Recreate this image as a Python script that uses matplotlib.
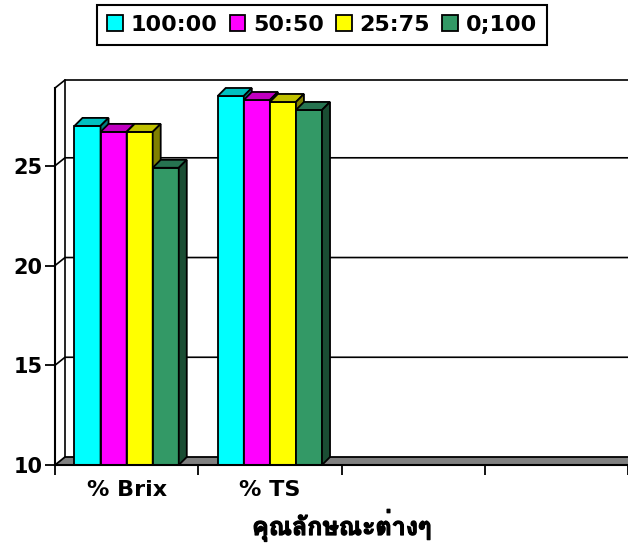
import matplotlib
matplotlib.use("Agg")
import matplotlib.pyplot as plt
import matplotlib.patheffects as pe
from matplotlib import font_manager
from matplotlib.ft2font import FT2Font
from matplotlib.patches import Polygon, Patch

# data
categories = ["% Brix", "% TS", "", ""]
series = ["100:00", "50:50", "25:75", "0;100"]
s_100_00 = [27.0, 28.5]
s_50_50 = [26.7, 28.3]
s_25_75 = [26.7, 28.2]
s_0_100 = [24.9, 27.8]
y_ticks = [10, 15, 20, 25]
x_title = "คุณลักษณะต่างๆ"

FRONT = ["#00FFFF", "#FF00FF", "#FFFF00", "#339966"]
TOP = ["#00C0C0", "#C000C0", "#C0C000", "#267350"]
SIDE = ["#008080", "#800080", "#808000", "#1A4D33"]
FLOOR = "#808080"


def thai_family():
    for f in font_manager.fontManager.ttflist:
        try:
            if 0x0E04 in FT2Font(f.fname).get_charmap():
                return f.name
        except Exception:
            pass
    return "DejaVu Sans"


W, H = 628, 544
L, R, B, T = 55, 628, 465, 88
YMIN, YMAX = 10, 28.9

fig = plt.figure(figsize=(W / 100, H / 100), dpi=100)
ax = fig.add_axes([L / W, 1 - B / H, (R - L) / W, (B - T) / H])
ax.set_xlim(0, len(categories))
ax.set_ylim(YMIN, YMAX)

px_x = len(categories) / (R - L)
px_y = (YMAX - YMIN) / (B - T)
wdx, wdy = 10 * px_x, 8 * px_y   # wall depth
bdx, bdy = 8 * px_x, 8 * px_y    # bar depth
xr = len(categories) + 3 * wdx

# back wall grid + left wall
for v in y_ticks[1:] + [YMAX]:
    ax.plot([0, wdx, xr], [v, v + wdy, v + wdy], color="black", lw=1.2,
            clip_on=False, zorder=1, solid_joinstyle="miter")
ax.plot([wdx, wdx], [YMIN + wdy, YMAX + wdy], color="black", lw=1.2,
        clip_on=False, zorder=1)

# floor
ax.add_patch(Polygon([(0, YMIN), (xr, YMIN), (xr, YMIN + wdy), (wdx, YMIN + wdy)],
                     closed=True, facecolor=FLOOR, edgecolor="black", lw=1.3,
                     clip_on=False, zorder=2))

# bars
all_series = [s_100_00, s_50_50, s_25_75, s_0_100]
w = 0.182
for j, vals in enumerate(all_series):
    for i, v in enumerate(vals):
        x0 = i + 0.5 - 2 * w + j * w
        ax.bar(x0, v - YMIN, bottom=YMIN, width=w, align="edge",
               color=FRONT[j], edgecolor="black", lw=1.3, zorder=3 + 2 * j)
        ax.add_patch(Polygon([(x0, v), (x0 + w, v), (x0 + w + bdx, v + bdy), (x0 + bdx, v + bdy)],
                             closed=True, facecolor=TOP[j], edgecolor="black", lw=1.3,
                             clip_on=False, zorder=3.5 + 2 * j))
        ax.add_patch(Polygon([(x0 + w, YMIN), (x0 + w, v), (x0 + w + bdx, v + bdy),
                              (x0 + w + bdx, YMIN + bdy)],
                             closed=True, facecolor=SIDE[j], edgecolor="black", lw=1.3,
                             clip_on=False, zorder=3.5 + 2 * j))

for s in ["top", "right"]:
    ax.spines[s].set_visible(False)
for s in ["left", "bottom"]:
    ax.spines[s].set_linewidth(1.5)
    ax.spines[s].set_zorder(20)

ax.set_yticks(y_ticks)
ax.set_yticklabels([str(t) for t in y_ticks], fontsize=15, fontweight="heavy")
ax.tick_params(axis="y", length=7, width=1.3, pad=2)
ax.set_xticks(range(len(categories) + 1))
ax.set_xticklabels([])
ax.tick_params(axis="x", which="major", length=7, width=1.3)
ax.set_xticks([i + 0.5 for i in range(len(categories))], minor=True)
ax.set_xticklabels(categories, minor=True, fontsize=16, fontweight="heavy")
ax.tick_params(axis="x", which="minor", length=0, pad=11)

# the Thai font found has no bold face, so thicken it with a thin stroke
ax.set_xlabel(x_title, family=[thai_family(), "DejaVu Sans"], fontsize=18,
              fontweight="bold", labelpad=7,
              path_effects=[pe.withStroke(linewidth=0.9, foreground="black")])

handles = [Patch(facecolor=c, edgecolor="black", lw=1.3) for c in FRONT]
leg = fig.legend(handles, series, ncol=4, loc="center", bbox_to_anchor=(0.513, 0.954),
                 frameon=True, fancybox=False, edgecolor="black", framealpha=1,
                 handlelength=0.7, handleheight=0.7, handletextpad=0.35,
                 columnspacing=0.55, borderpad=0.45,
                 prop={"weight": "heavy", "size": 16})
leg.get_frame().set_linewidth(1.5)

fig.savefig("out.png", dpi=100)
